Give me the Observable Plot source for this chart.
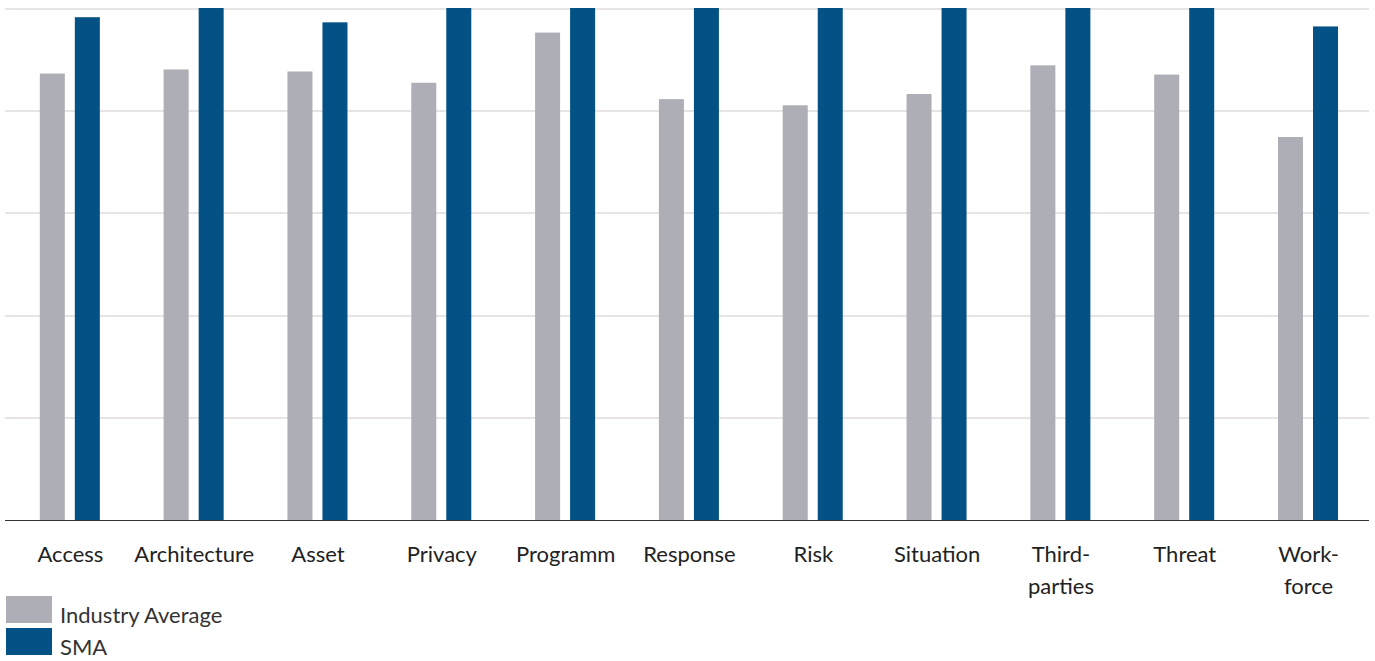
<!DOCTYPE html>
<html><head><meta charset="utf-8">
<script src="https://cdn.jsdelivr.net/npm/d3@7"></script>
<script src="https://cdn.jsdelivr.net/npm/@observablehq/plot@0.6"></script>
<style>
body{margin:0;background:#fff;font-family:Lato,sans-serif;color:#333;}
#chart svg{display:block;}
#legend{margin-left:6px;margin-top:-10px;position:relative;}
.item{display:flex;height:32px;}
.sw{width:46px;height:27px;margin-right:8px;flex:none;align-self:flex-start;}
.lab{font-size:22px;line-height:22px;color:#333;align-self:flex-end;margin-bottom:2px;}
</style></head><body><div id="chart"></div><div id="legend"></div>
<script>
const categories = ["Access","Architecture","Asset","Privacy","Programm","Response","Risk","Situation","Third-parties","Threat","Workforce"];
const tickLabels = ["Access","Architecture","Asset","Privacy","Programm","Response","Risk","Situation","Third-\nparties","Threat","Work-\nforce"];
const seriesNames = ["Industry Average","SMA"];
const industryAverage = [4.36,4.40,4.38,4.27,4.76,4.11,4.05,4.16,4.44,4.35,3.74];
const sma = [4.91,5.00,4.86,5.00,5.00,5.00,5.00,5.00,5.00,5.00,4.82];
const yTicks = [0,1,2,3,4,5];
const colors = ["#aeaeb6","#045185"];

const data = [];
categories.forEach((c,i)=>{
  data.push({cat:c, series:seriesNames[0], value:industryAverage[i]});
  data.push({cat:c, series:seriesNames[1], value:sma[i]});
});
const labelOf = new Map(categories.map((c,i)=>[c,tickLabels[i]]));

const chart = Plot.plot({
  width: 1375,
  height: 606,
  marginTop: 8,
  marginBottom: 86,
  marginLeft: 6,
  marginRight: 7,
  style: {fontFamily: "Lato, sans-serif", fontSize: "22px", color: "#222", background: "transparent"},
  fx: {domain: categories, padding: 0, round: false, axis: null},
  x: {domain: seriesNames, axis: null, round: false, paddingInner: 0.2857, paddingOuter: 0.911, align: 0.53},
  y: {domain: [0,5], axis: null},
  color: {domain: seriesNames, range: colors},
  marks: [
    Plot.ruleY(yTicks.filter(d=>d>0), {stroke: "#e9e4e4", strokeWidth: 2, insetLeft: -1, insetRight: -1, shapeRendering: "crispEdges"}),
    Plot.barY(data, {fx: "cat", x: "series", y: "value", fill: "series"}),
    Plot.ruleY([0], {stroke: "#333", strokeWidth: 1.5, insetLeft: -1, insetRight: -1, shapeRendering: "crispEdges"}),
    Plot.axisFx({anchor: "bottom", tickSize: 0, tickPadding: 19, dx: 2, label: null, tickFormat: d=>labelOf.get(d), fontSize: 22, lineHeight: 1.45, fill: "#222"})
  ]
});
document.getElementById("chart").appendChild(chart);

const legend = document.getElementById("legend");
seriesNames.forEach((s,i)=>{
  const it = document.createElement("div"); it.className="item";
  const sw = document.createElement("div"); sw.className="sw"; sw.style.background=colors[i];
  const lb = document.createElement("div"); lb.className="lab"; lb.textContent=s;
  it.appendChild(sw); it.appendChild(lb); legend.appendChild(it);
});
</script></body></html>
